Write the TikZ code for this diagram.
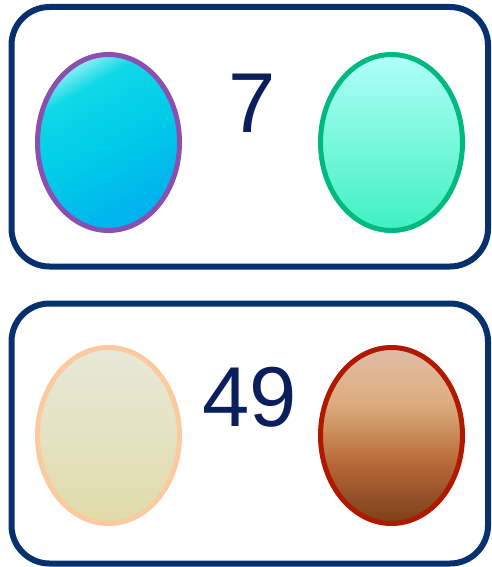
\documentclass[tikz,border=0pt]{standalone}
\usepackage{fontspec}
\setmainfont{Liberation Sans}
\usetikzlibrary{shapes.geometric}
\definecolor{navy}{HTML}{06306E}
\definecolor{txtnavy}{HTML}{0A1F5C}
\definecolor{purp}{HTML}{8A4FB0}
\definecolor{grnB}{HTML}{00B880}
\definecolor{grnT}{HTML}{B0FFF8}
\definecolor{grnBot}{HTML}{40F0C0}
\definecolor{peach}{HTML}{FCCAA0}
\definecolor{crmT}{HTML}{E8E8DA}
\definecolor{crmB}{HTML}{E0DCA8}
\definecolor{brnRim}{HTML}{B01800}
\definecolor{cyA}{HTML}{80ECF0}
\definecolor{cyB}{HTML}{10D8E8}
\definecolor{cyC}{HTML}{00CCE8}
\definecolor{cyD}{HTML}{00B0EE}
\definecolor{bA}{HTML}{DFBCA8}
\definecolor{bB}{HTML}{DEAE80}
\definecolor{bC}{HTML}{C88A58}
\definecolor{bD}{HTML}{B86A38}
\definecolor{bE}{HTML}{955028}
\definecolor{bF}{HTML}{7A4018}
\pgfdeclareverticalshading{cyanegg}{100bp}{color(0bp)=(cyD); color(25bp)=(cyD); color(50bp)=(cyC); color(68bp)=(cyB); color(75bp)=(cyA); color(100bp)=(cyA)}
\pgfdeclareverticalshading{brownegg}{100bp}{color(0bp)=(bF); color(25bp)=(bF); color(32.5bp)=(bE); color(42.5bp)=(bD); color(50bp)=(bC); color(60bp)=(bB); color(75bp)=(bA); color(100bp)=(bA)}
\tikzset{
  panel/.style={draw=navy, line width=6pt, rounded corners=38pt},
  egg/.style={ellipse, line width=5pt, minimum width=142pt, minimum height=176pt, inner sep=0pt},
  num/.style={text=txtnavy, font=\fontsize{85}{100}\selectfont, inner sep=0pt}
}
\begin{document}
\begin{tikzpicture}[x=1pt,y=-1pt]
\useasboundingbox (0,0) rectangle (491,567);
\begin{scope}
\clip (0,0) rectangle (491,567);
\draw[panel] (11.5,7) rectangle (488,266.5);
\draw[panel] (11.5,303.5) rectangle (488,563.5);
\end{scope}
\node[egg, draw=purp, shading=cyanegg, shading angle=30] (e1) at (108.5,142.5) {};
\node[egg, draw=grnB, top color=grnT, bottom color=grnBot] (e2) at (391.5,142.5) {};
\node[egg, draw=peach, top color=crmT, bottom color=crmB] (e3) at (108.5,435.5) {};
\node[egg, draw=brnRim, shading=brownegg] (e4) at (391.5,435.5) {};
\node[num] (n1) at (252,103.5) {7};
\node[num] (n2) at (250,397.5) {49};
\end{tikzpicture}
\end{document}
